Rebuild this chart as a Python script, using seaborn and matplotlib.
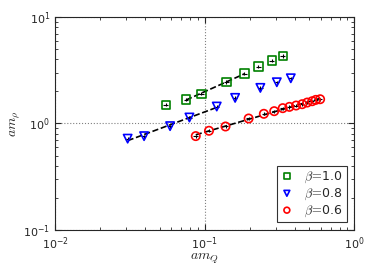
import numpy as np
import seaborn as sns
import matplotlib.pyplot as plt

# beta = 1.0
x_b10 = [0.055, 0.0752, 0.0953, 0.140, 0.1847, 0.229, 0.281, 0.333]
y_b10 = [1.50, 1.68, 1.90, 2.46, 2.94, 3.42, 3.90, 4.31]
# beta = 0.8
x_b08 = [0.0306, 0.0394, 0.0588, 0.0792, 0.1206, 0.160, 0.236, 0.304, 0.377]
y_b08 = [0.72, 0.76, 0.944, 1.138, 1.443, 1.74, 2.16, 2.44, 2.66]
# beta = 0.6
x_b06 = [0.0873, 0.107, 0.138, 0.197, 0.249, 0.292, 0.333, 0.369, 0.409,
         0.449, 0.485, 0.524, 0.554, 0.592]
y_b06 = [0.761, 0.854, 0.937, 1.114, 1.233, 1.305, 1.393, 1.433, 1.475,
         1.518, 1.573, 1.619, 1.667, 1.69]

# which points enter the dashed power-law fit (first, last index)
fit_range = {"b10": (1, 4), "b08": (0, 4), "b06": (0, 13)}

series = [
    ("b10", x_b10, y_b10, "s", "green", r"$\beta\!=\!$1.0"),
    ("b08", x_b08, y_b08, "v", "blue", r"$\beta\!=\!$0.8"),
    ("b06", x_b06, y_b06, "o", "red", r"$\beta\!=\!$0.6"),
]

sns.set_style("ticks")
plt.rcParams["font.family"] = ["DejaVu Sans"]
plt.rcParams["mathtext.fontset"] = "cm"

fig = plt.figure(figsize=(3.74, 2.80), dpi=100)
ax = fig.add_axes([0.147, 0.179, 0.80, 0.760])
ax.set_xscale("log")
ax.set_yscale("log")

for key, xs, ys, mk, col, lab in series:
    xs = np.array(xs)
    ys = np.array(ys)
    # small black error crosses
    ax.errorbar(xs, ys, xerr=0.035 * xs, yerr=0.035 * ys, fmt="none",
                ecolor="black", elinewidth=0.8, capsize=0, zorder=3)
    i0, i1 = fit_range[key]
    p = np.polyfit(np.log(xs[i0:i1 + 1]), np.log(ys[i0:i1 + 1]), 1)
    xf = np.array([xs[i0], xs[i1]])
    yf = np.exp(np.polyval(p, np.log(xf)))
    sns.lineplot(x=xf, y=yf, ax=ax, color="black", linestyle="--",
                 linewidth=1.2, zorder=2)
    sns.scatterplot(x=xs, y=ys, ax=ax, marker=mk, s=36, facecolor="none",
                    edgecolor=col, linewidth=1.2, label=lab, zorder=4)

ax.set_xlim(1e-2, 1e0)
ax.set_ylim(1e-1, 1e1)
ax.grid(True, which="major", color="gray", linestyle=":", linewidth=0.8)
ax.tick_params(which="both", direction="in", top=True, right=True,
               labelsize=8)
ax.tick_params(axis="x", which="major", pad=4)
ax.tick_params(which="major", length=4)
ax.tick_params(which="minor", length=2)
for s in ax.spines.values():
    s.set_linewidth(0.8)

ax.set_xlabel(r"$am_Q$", fontsize=10, labelpad=0)
ax.set_ylabel(r"$am_\rho$", fontsize=10, labelpad=1)

leg = ax.legend(loc="lower right", fontsize=9, frameon=True, fancybox=False,
                edgecolor="black", handletextpad=0.9, borderpad=0.3,
                labelspacing=0.12, handlelength=1.0, markerscale=0.7,
                borderaxespad=0.6)
leg.get_frame().set_linewidth(0.8)

fig.savefig("out.png", dpi=100)
